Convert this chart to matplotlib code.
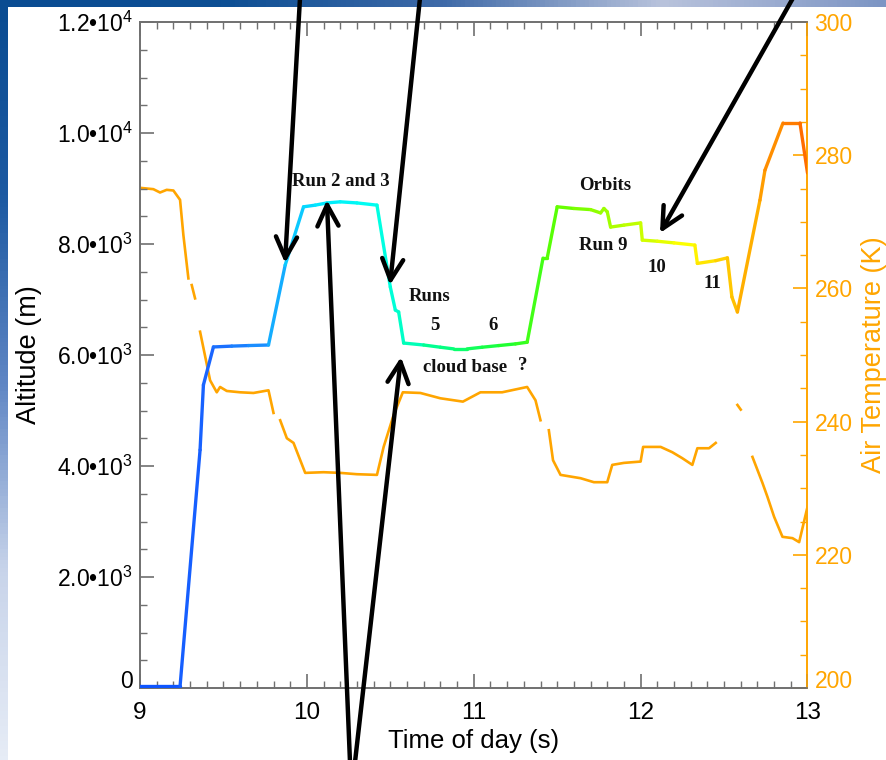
import numpy as np
import matplotlib
matplotlib.use('Agg')
import matplotlib.pyplot as plt
from matplotlib.collections import LineCollection
from matplotlib.colors import LinearSegmentedColormap
from matplotlib.ticker import MultipleLocator, FuncFormatter

plt.rcParams['font.family'] = 'Liberation Sans'
plt.rcParams['mathtext.fontset'] = 'custom'
plt.rcParams['mathtext.rm'] = 'Liberation Sans'
plt.rcParams['mathtext.it'] = 'Liberation Sans'
plt.rcParams['mathtext.bf'] = 'Liberation Sans:bold'

# Altitude track (m) vs time of day
alt_time = [9.00, 9.24, 9.36, 9.38, 9.44, 9.55, 9.65, 9.77, 9.87, 9.98, 10.05,
            10.12, 10.20, 10.30, 10.42, 10.50, 10.53, 10.55, 10.58, 10.70, 10.80,
            10.88, 10.96, 11.05, 11.15, 11.25, 11.32, 11.415, 11.44, 11.50, 11.60,
            11.70, 11.76, 11.78, 11.80, 11.82, 11.90, 12.00, 12.01, 12.10, 12.20,
            12.325, 12.34, 12.45, 12.52, 12.547, 12.58, 12.715, 12.745, 12.853,
            12.955, 13.00]
alt_m = [30, 30, 4290, 5460, 6145, 6160, 6170, 6180, 7620, 8670, 8700,
         8740, 8760, 8740, 8700, 7225, 6810, 6775, 6215, 6180, 6140,
         6110, 6110, 6140, 6170, 6200, 6230, 7745, 7745, 8670, 8640,
         8620, 8560, 8640, 8580, 8305, 8340, 8380, 8070, 8050, 8020,
         7980, 7650, 7700, 7750, 7045, 6775, 8790, 9330, 10180,
         10180, 9280]

# Air temperature (K) vs time of day, NaN = data gap
temp_time = [9.00, 9.08, 9.12, 9.16, 9.20, 9.24, 9.26, 9.29, np.nan, 9.31, 9.33, np.nan,
             9.36, 9.42, 9.46, 9.48, 9.52, 9.60, 9.68, 9.77, 9.80, np.nan, 9.84, 9.88,
             9.92, 9.99, 10.10, 10.20, 10.30, 10.42, 10.46, 10.52, 10.575, 10.68, 10.80,
             10.935, 11.04, 11.17, 11.32, 11.37, 11.40, np.nan, 11.45, 11.475, 11.52,
             11.64, 11.72, 11.80, 11.83, 11.90, 12.00, 12.015, 12.12, 12.19, 12.25,
             12.31, 12.34, 12.41, 12.45, np.nan, 12.58, 12.60, np.nan, 12.67, 12.73,
             12.76, 12.80, 12.85, 12.91, 12.95, 13.00]
temp_k = [275.1, 274.9, 274.4, 274.8, 274.7, 273.3, 268.0, 261.5, np.nan, 260.5, 258.5, np.nan,
          253.5, 246.2, 244.4, 245.2, 244.6, 244.4, 244.3, 244.7, 241.3, np.nan, 240.2, 237.5,
          236.8, 232.3, 232.4, 232.3, 232.1, 232.0, 236.2, 241.0, 244.4, 244.3, 243.5,
          243.0, 244.4, 244.4, 245.2, 243.2, 240.2, np.nan, 238.7, 234.2, 232.0,
          231.5, 230.9, 230.9, 233.5, 233.8, 234.0, 236.2, 236.2, 235.4, 234.5,
          233.5, 236.0, 236.0, 236.8, np.nan, 242.5, 241.8, np.nan, 234.7, 230.8,
          228.7, 225.7, 222.7, 222.5, 221.9, 227.2]

x_ticks = [9, 10, 11, 12, 13]
labels = ['Run 2 and 3', 'Runs', '5', '6', 'cloud base', '?', 'Orbits', 'Run 9', '10', '11']
label_t = [10.204, 10.738, 10.768, 11.115, 10.947, 11.295, 11.786, 11.774, 12.098, 12.427]
label_alt = [9135, 7063, 6523, 6523, 5766, 5802, 9063, 7964, 7568, 7297]

# arrows: tip on the plot (time, altitude), tail at figure edge (pixels)
arrow_tip_t = [9.869, 10.498, 12.116, 10.120, 10.564]
arrow_tip_alt = [7658, 7261, 8198, 8793, 5964]
arrow_tail_px = [(300, 762), (420, 762), (793, 762), (350, -2), (355, -2)]

orange = '#FFA500'
grey = '#707070'

fig = plt.figure(figsize=(8.86, 7.6), dpi=100)
fig.patch.set_facecolor('white')

# slide background strips (top and left)
bg = fig.add_axes([0, 0, 1, 1], zorder=-10)
bg.set_xlim(0, 1)
bg.set_ylim(0, 1)
bg.axis('off')
top_cmap = LinearSegmentedColormap.from_list('top', ['#0a4c92', '#0d4f94', '#3f6aa8', '#b9c3dc', '#7d95c4'])
left_cmap = LinearSegmentedColormap.from_list('left', ['#e6ecf6', '#c8d4ea', '#5f86c4', '#1d5aa2', '#0a4c92'])
bg.imshow(np.linspace(0, 1, 200)[None, :], cmap=top_cmap, aspect='auto',
          extent=(0, 1, 1 - 7 / 760, 1))
bg.imshow(np.linspace(0, 1, 200)[:, None], cmap=left_cmap, aspect='auto', origin='lower',
          extent=(0, 8 / 886, 0, 1 - 7 / 760))

ax = fig.add_axes([140 / 886, 72 / 760, 667.5 / 886, 666 / 760])
ax2 = ax.twinx()

# temperature on the right axis
ax2.plot(temp_time, temp_k, color=orange, lw=1.9, zorder=2)
ax2.set_ylim(200, 300)

# altitude coloured by time
ax.set_zorder(ax2.get_zorder() + 1)
ax.patch.set_visible(False)
track_cmap = LinearSegmentedColormap.from_list('track', [
    (0.00, '#0a50ff'), (0.10, '#1a64ff'), (0.18, '#1a90ff'), (0.22, '#10c0ff'),
    (0.27, '#00e8ff'), (0.35, '#00fff0'), (0.40, '#00ffc0'), (0.44, '#00ff90'),
    (0.55, '#20ff30'), (0.63, '#60ff00'), (0.72, '#b0ff00'), (0.82, '#ffff00'),
    (0.89, '#ffc400'), (0.93, '#ffa000'), (1.00, '#ff6a00')])
pts = np.column_stack([alt_time, alt_m])
segs = np.stack([pts[:-1], pts[1:]], axis=1)
mid = (np.array(alt_time[:-1]) + np.array(alt_time[1:])) / 2
lc = LineCollection(segs, colors=track_cmap((mid - 9) / 4), linewidths=2.4,
                    capstyle='round', joinstyle='round', zorder=3)
ax.add_collection(lc)
ax.set_xlim(9, 13)
ax.set_ylim(0, 12000)

# axes styling
for s in ['left', 'bottom', 'top']:
    ax.spines[s].set_color(grey)
    ax2.spines[s].set_color(grey)
ax.spines['right'].set_color(orange)
ax2.spines['right'].set_color(orange)
for s in list(ax.spines.values()) + list(ax2.spines.values()):
    s.set_linewidth(1.2)

ax.set_xticks(x_ticks)
ax.xaxis.set_minor_locator(MultipleLocator(0.1))
ax.yaxis.set_major_locator(MultipleLocator(2000))
ax.yaxis.set_minor_locator(MultipleLocator(500))
ax.tick_params(axis='x', which='both', direction='in', top=True, color=grey, labelsize=17.5, pad=10)
ax.tick_params(axis='x', which='major', length=10, width=1.2)
ax.tick_params(axis='x', which='minor', length=5, width=1.0)
ax.tick_params(axis='y', which='both', direction='in', right=False, color=grey, labelsize=16.5, pad=5)
ax.tick_params(axis='y', which='major', length=10, width=1.2)
ax.tick_params(axis='y', which='minor', length=5, width=1.0)


def alt_fmt(v, pos):
    if v == 0:
        return '0'
    e = int(np.floor(np.log10(abs(v))))
    return f'{v / 10 ** e:.1f}•10$^{{{e}}}$'


ax.yaxis.set_major_formatter(FuncFormatter(alt_fmt))

ax2.yaxis.set_major_locator(MultipleLocator(20))
ax2.yaxis.set_minor_locator(MultipleLocator(5))
ax2.tick_params(axis='y', which='both', direction='in', color=orange, labelcolor=orange,
                labelsize=16.5, pad=5)
ax2.tick_params(axis='y', which='major', length=10, width=1.2)
ax2.tick_params(axis='y', which='minor', length=5, width=1.0)

ax.set_xlabel('Time of day (s)', fontsize=18.5, labelpad=4)
ax.set_ylabel('Altitude (m)', fontsize=19.5, labelpad=11)
ax2.set_ylabel('Air Temperature (K)', fontsize=19.5, color=orange, labelpad=6)

# annotations
for txt, t, a in zip(labels, label_t, label_alt):
    ax.text(t, a, txt, ha='center', va='center', fontsize=13.5, fontweight='bold',
            family='Liberation Serif', color='#111111', zorder=5)

for t, a, tail in zip(arrow_tip_t, arrow_tip_alt, arrow_tail_px):
    ax.annotate('', xy=(t, a), xycoords='data', xytext=tail, textcoords='figure pixels',
                arrowprops=dict(arrowstyle='->', lw=3.2, color='black', mutation_scale=38,
                                shrinkA=0, shrinkB=0),
                annotation_clip=False, zorder=6)

# lowest labels sit a little above their ticks
fig.canvas.draw()
for tk in ax.yaxis.get_major_ticks():
    if tk.get_loc() == 0:
        tk.label1.set_verticalalignment('baseline')
for tk in ax2.yaxis.get_major_ticks():
    if tk.get_loc() == 200:
        tk.label2.set_verticalalignment('baseline')

fig.savefig('out.png', dpi=100)
